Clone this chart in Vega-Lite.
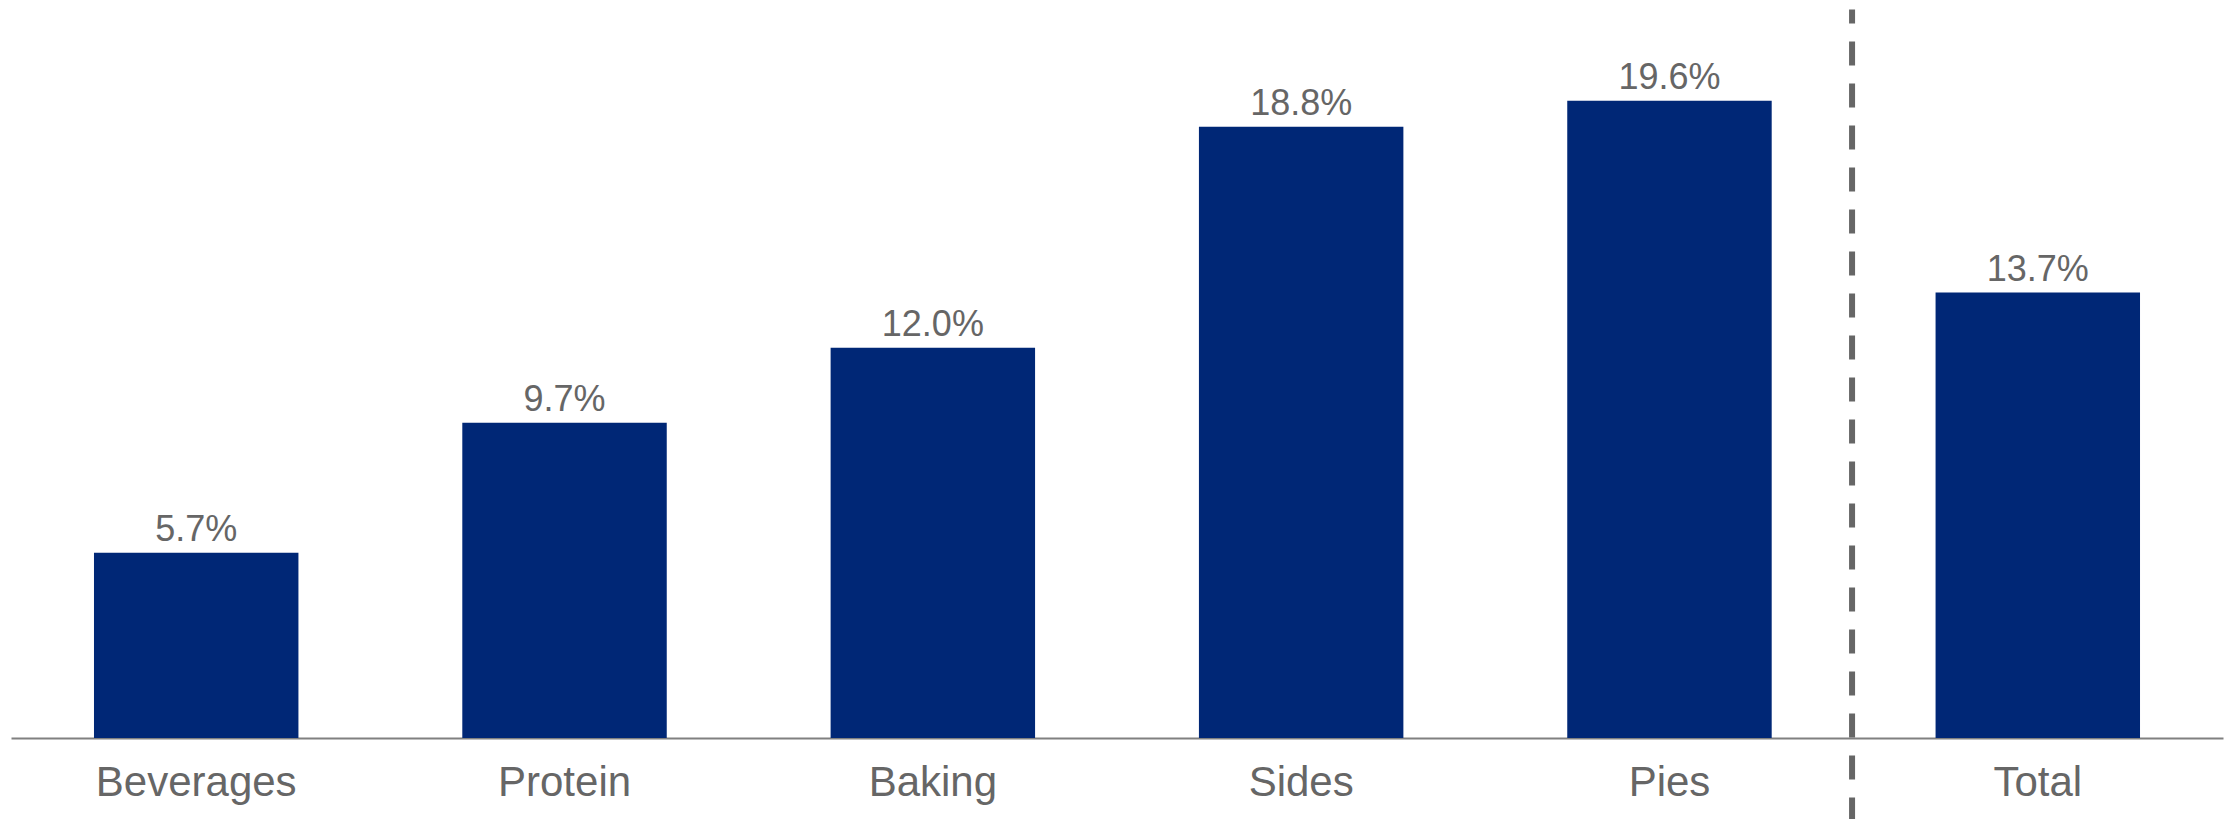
{
  "$schema": "https://vega.github.io/schema/vega-lite/v6.json",
  "width": 2212,
  "height": 738,
  "autosize": {"type": "none"},
  "padding": {"left": 11, "top": 0, "right": 8, "bottom": 81},
  "background": "white",
  "config": {"view": {"stroke": null}, "font": "Liberation Sans"},
  "data": {
    "values": [
      {"category": "Beverages", "value": 0.057},
      {"category": "Protein", "value": 0.097},
      {"category": "Baking", "value": 0.120},
      {"category": "Sides", "value": 0.188},
      {"category": "Pies", "value": 0.196},
      {"category": "Total", "value": 0.137}
    ]
  },
  "encoding": {
    "x": {
      "field": "category",
      "type": "nominal",
      "sort": null,
      "scale": {"paddingInner": 0.4449, "paddingOuter": 0.2253, "align": 0.5},
      "axis": {
        "title": null,
        "labelAngle": 0,
        "ticks": false,
        "tickSize": 0,
        "labelPadding": 57,
        "labelBaseline": "alphabetic",
        "labelFontSize": 42,
        "labelLimit": 0,
        "labelColor": "#666666",
        "labelFont": "Liberation Sans",
        "domainColor": "#808080",
        "domainWidth": 2,
        "grid": false
      }
    }
  },
  "layer": [
    {
      "mark": {"type": "bar", "color": "#002776"},
      "encoding": {
        "y": {
          "field": "value",
          "type": "quantitative",
          "scale": {"domain": [0, 0.227], "nice": false, "zero": true},
          "axis": null
        }
      }
    },
    {
      "mark": {"type": "text", "baseline": "alphabetic", "dy": -12, "fontSize": 36, "color": "#666666", "font": "Liberation Sans"},
      "encoding": {
        "y": {"field": "value", "type": "quantitative"},
        "text": {"field": "value", "type": "quantitative", "format": ".1%"}
      }
    },
    {
      "data": {"values": [{"category": "Total", "top": 0.2241, "bottom": -0.03}]},
      "mark": {"type": "rule", "color": "#666666", "strokeWidth": 6, "strokeDash": [24, 18], "strokeDashOffset": 10, "xOffset": -83.5},
      "encoding": {
        "x": {"field": "category", "type": "nominal", "bandPosition": 0},
        "y": {"field": "top", "type": "quantitative"},
        "y2": {"field": "bottom"}
      }
    }
  ]
}
